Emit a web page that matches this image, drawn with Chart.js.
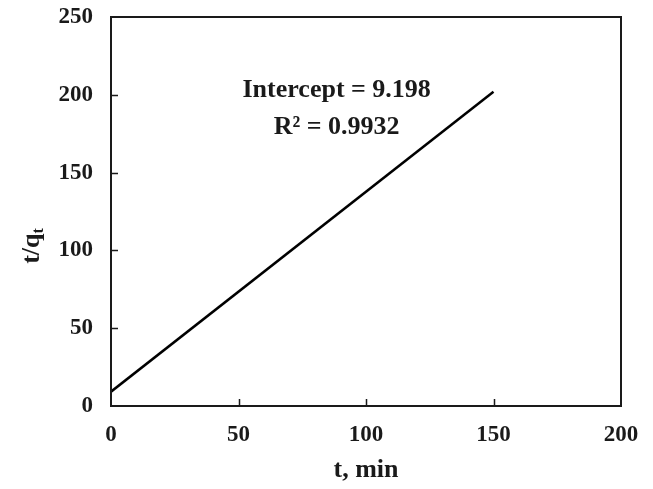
<!DOCTYPE html>
<html>
<head>
<meta charset="utf-8">
<script src="https://cdn.jsdelivr.net/npm/chart.js@4.4.0/dist/chart.umd.min.js"></script>
<style>
  html, body { margin: 0; padding: 0; background: #fff; }
  #wrap { width: 653px; height: 489px; position: relative; }
</style>
</head>
<body>
<div id="wrap"><canvas id="c" width="653" height="489"></canvas></div>
<script>
// Data
const timeValues = [0, 150];          // t, min
const tOverQValues = [9.198, 202];    // t/qt
const xTicks = [0, 50, 100, 150, 200];
const yTicks = [0, 50, 100, 150, 200, 250];
const annotationLines = ['Intercept = 9.198', 'R\u00B2 = 0.9932'];
const xTitle = 't, min';
const yTitleMain = 't/q';
const yTitleSub = 't';

const FONT = '"Liberation Serif", "Times New Roman", serif';

const framePlugin = {
  id: 'frame',
  afterDraw(chart) {
    const ctx = chart.ctx;
    const a = chart.chartArea;
    const xs = chart.scales.x, ys = chart.scales.y;
    ctx.save();
    ctx.strokeStyle = '#1a1a1a';
    ctx.lineWidth = 2;
    ctx.strokeRect(a.left, a.top, a.right - a.left, a.bottom - a.top);
    // inward ticks
    ctx.lineWidth = 1.5;
    ctx.beginPath();
    xTicks.forEach(v => {
      if (v === xs.min || v === xs.max) return;
      const px = Math.round(xs.getPixelForValue(v)) + 0.5;
      ctx.moveTo(px, a.bottom);
      ctx.lineTo(px, a.bottom - 7);
    });
    yTicks.forEach(v => {
      if (v === ys.min || v === ys.max) return;
      const py = Math.round(ys.getPixelForValue(v)) + 0.5;
      ctx.moveTo(a.left, py);
      ctx.lineTo(a.left + 7, py);
    });
    ctx.stroke();

    // annotation text
    ctx.fillStyle = '#1a1a1a';
    ctx.font = 'bold 26px ' + FONT;
    ctx.textAlign = 'center';
    ctx.textBaseline = 'middle';
    const ax = xs.getPixelForValue(88.5);
    ctx.fillText(annotationLines[0], ax, ys.getPixelForValue(203));
    ctx.fillText(annotationLines[1], ax, ys.getPixelForValue(179));

    // y title with subscript
    ctx.save();
    ctx.translate(31, 246);
    ctx.rotate(-Math.PI / 2);
    ctx.font = 'bold 26px ' + FONT;
    ctx.textAlign = 'left';
    ctx.textBaseline = 'alphabetic';
    const mw = ctx.measureText(yTitleMain).width;
    ctx.font = 'bold 16px ' + FONT;
    const sw = ctx.measureText(yTitleSub).width;
    const total = mw + sw;
    ctx.font = 'bold 26px ' + FONT;
    ctx.fillText(yTitleMain, -total / 2, 8);
    ctx.font = 'bold 16px ' + FONT;
    ctx.fillText(yTitleSub, -total / 2 + mw, 12);
    ctx.restore();
    ctx.restore();
  }
};

new Chart(document.getElementById('c'), {
  type: 'scatter',
  data: {
    datasets: [{
      data: timeValues.map((t, i) => ({ x: t, y: tOverQValues[i] })),
      showLine: true,
      borderColor: '#000',
      borderWidth: 2.5,
      pointRadius: 0,
      fill: false
    }]
  },
  options: {
    responsive: false,
    animation: false,
    devicePixelRatio: 1,
    layout: { padding: { left: 0, top: 17, right: 32, bottom: 0 } },
    plugins: { legend: { display: false }, tooltip: { enabled: false } },
    scales: {
      x: {
        type: 'linear', min: 0, max: 200,
        afterBuildTicks: s => { s.ticks = xTicks.map(v => ({ value: v })); },
        afterFit: s => { s.height = 83; s.paddingLeft = 0; s.paddingRight = 0; },
        grid: { display: false, drawTicks: false },
        border: { display: false },
        ticks: { padding: 15, color: '#1a1a1a', font: { family: FONT, size: 23, weight: 'bold' }, maxRotation: 0 },
        title: { display: true, text: xTitle, color: '#1a1a1a', font: { family: FONT, size: 26, weight: 'bold' }, padding: { top: 0, bottom: 3 } }
      },
      y: {
        type: 'linear', min: 0, max: 250,
        afterBuildTicks: s => { s.ticks = yTicks.map(v => ({ value: v })); },
        afterFit: s => { s.width = 111; s.paddingTop = 0; s.paddingBottom = 0; },
        grid: { display: false, drawTicks: false },
        border: { display: false },
        ticks: { padding: 18, color: '#1a1a1a', font: { family: FONT, size: 23, weight: 'bold' } }
      }
    }
  },
  plugins: [framePlugin]
});
</script>
</body>
</html>
